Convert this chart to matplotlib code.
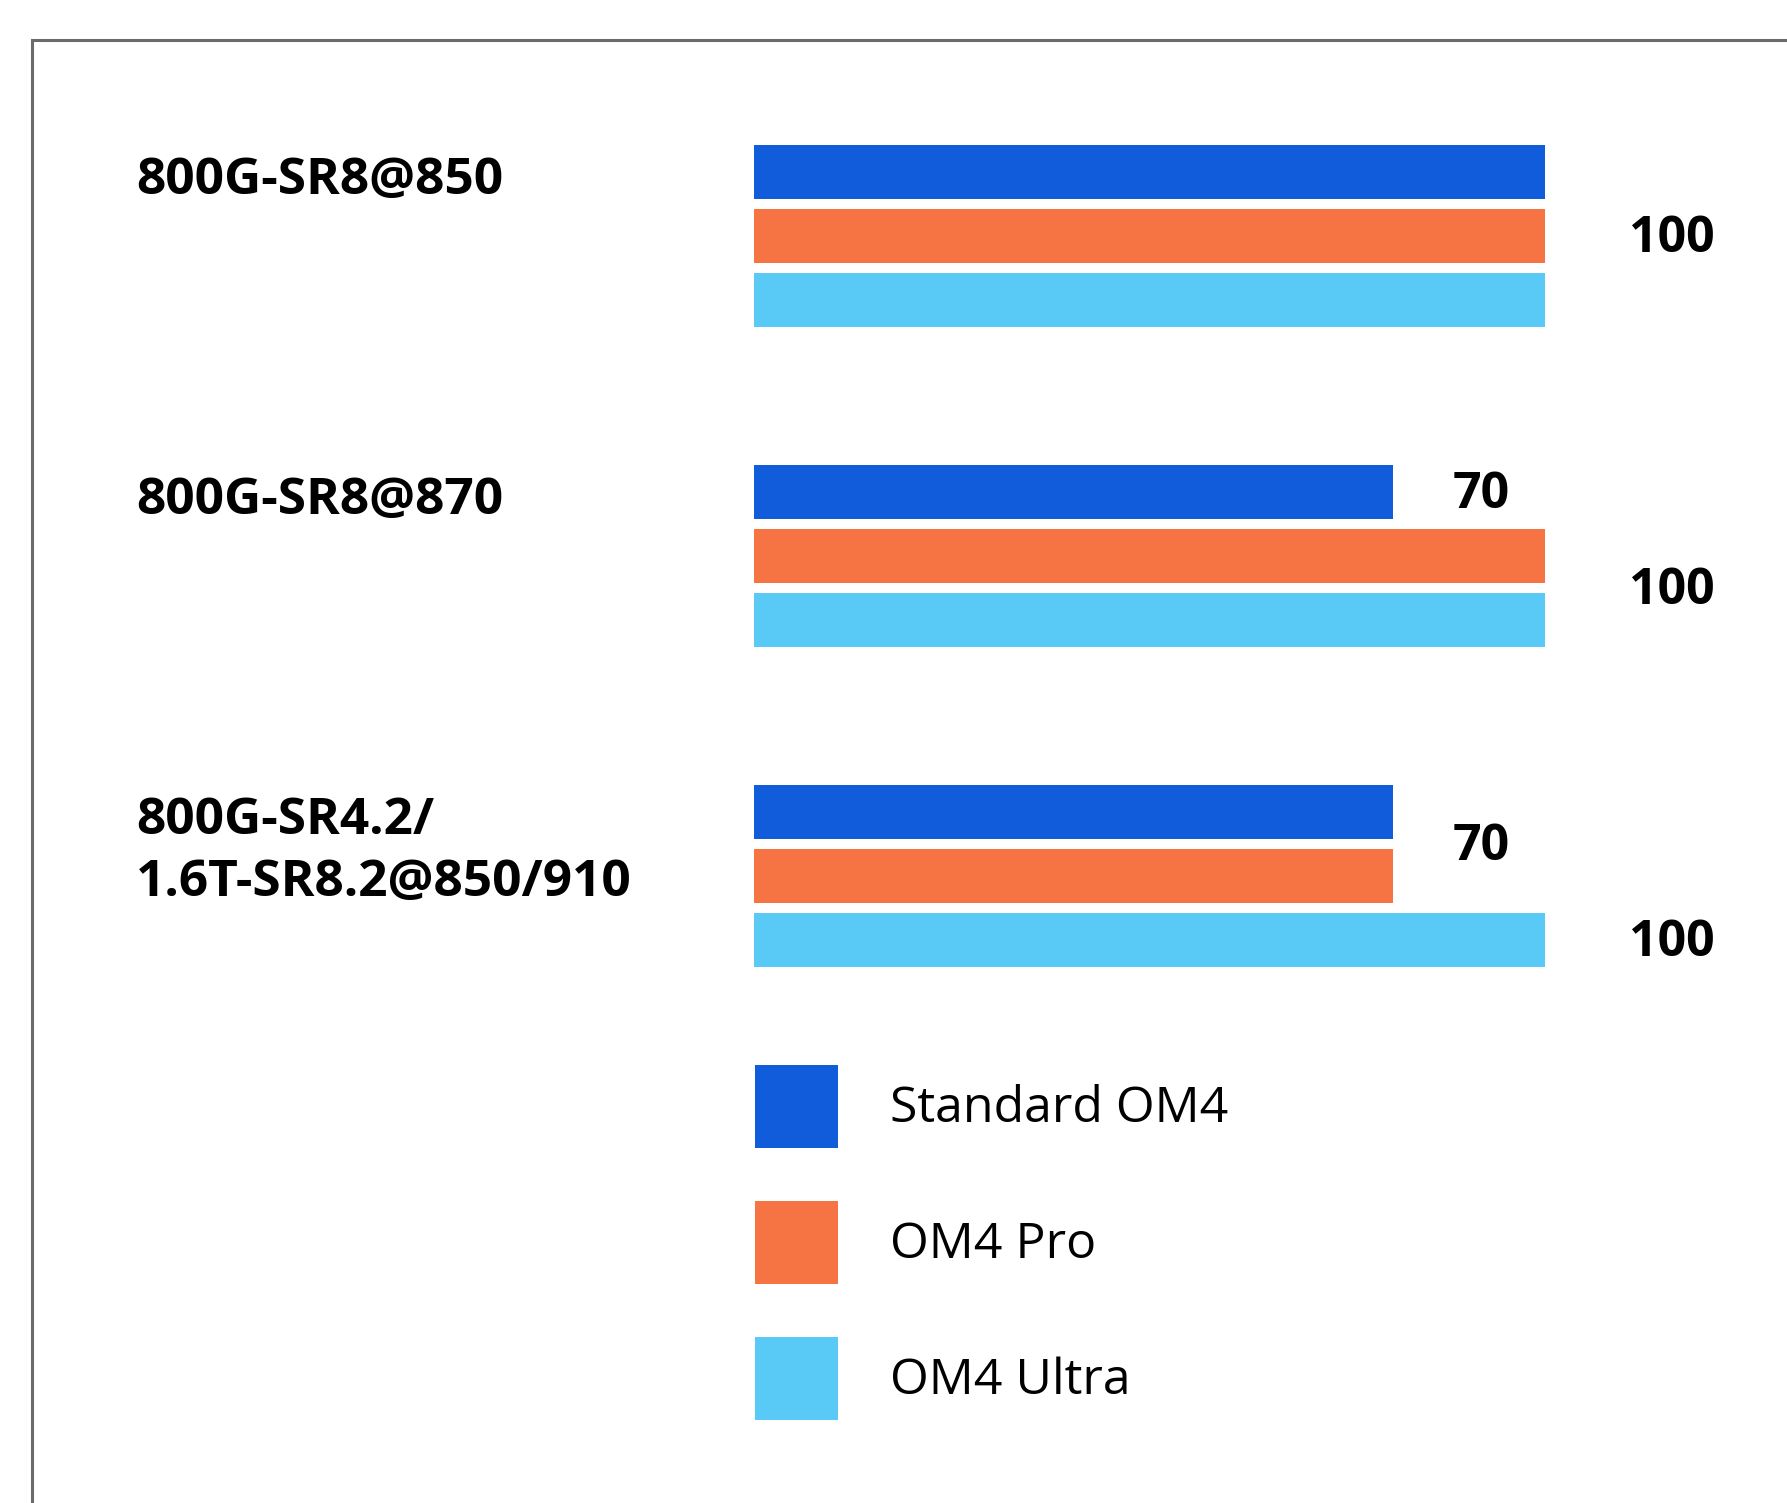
"""Fibre reach comparison chart: grouped horizontal bars with values and a legend."""

from itertools import groupby

import matplotlib

matplotlib.use("Agg")
import matplotlib.pyplot as plt
from matplotlib.patches import Patch, Rectangle

CATEGORIES = ["800G-SR8@850", "800G-SR8@870", "800G-SR4.2/\n1.6T-SR8.2@850/910"]
SERIES = ["Standard OM4", "OM4 Pro", "OM4 Ultra"]
STANDARD_OM4 = [100, 70, 70]
OM4_PRO = [100, 100, 70]
OM4_ULTRA = [100, 100, 100]

COLORS = ["#105CDB", "#F67444", "#58CAF5"]
BORDER = "#6B6B6B"
FONT = ["Open Sans", "DejaVu Sans"]

FIGSIZE = (17.87, 15.03)
DPI = 100
BAR_BASE = -56       # bars start left of zero in the original
BAR_STEP = 0.2       # spacing of bars inside a group
BAR_HEIGHT = 0.169
LABEL_SCALE = 1.25   # value labels sit at value * scale


def main() -> None:
    plt.rcParams["font.family"] = FONT
    fig = plt.figure(figsize=FIGSIZE, dpi=DPI)
    ax = fig.add_axes([0, 0, 1, 1])
    ax.set_xlim(-204.9, 147.8)
    ax.set_ylim(3.959, -0.7375)
    ax.axis("off")

    series_values = [STANDARD_OM4, OM4_PRO, OM4_ULTRA]
    for gi, cat in enumerate(CATEGORIES):
        ys = [gi + (si - 1) * BAR_STEP for si in range(len(SERIES))]
        vals = [series_values[si][gi] for si in range(len(SERIES))]
        for si, (y, v) in enumerate(zip(ys, vals)):
            ax.barh(y, v - BAR_BASE, left=BAR_BASE, height=BAR_HEIGHT,
                    color=COLORS[si], linewidth=0)

        # one label per run of equal neighbouring bars
        idx = 0
        for v, run in groupby(vals):
            n = len(list(run))
            y_mid = sum(ys[idx:idx + n]) / n
            ax.text(v * LABEL_SCALE, y_mid + 0.01, f"{v}", ha="center", va="center",
                    fontsize=36, fontweight="bold", color="black")
            idx += n

        ax.text(-178.0, ys[0] - BAR_HEIGHT / 2 + 0.035, cat, ha="left", va="top",
                fontsize=37, fontweight="bold", color="black", linespacing=1.3)

    handles = [Patch(facecolor=c, edgecolor="none") for c in COLORS]
    fig.legend(handles, SERIES, loc="upper left",
               bbox_to_anchor=(755 / 1787, 1 - 1065 / 1503),
               frameon=False, fontsize=36, borderpad=0, borderaxespad=0,
               handlelength=1.66, handleheight=2.18, handletextpad=1.05,
               labelspacing=1.06)

    # frame: only left and top edges fall inside the picture
    fig.patches.append(Rectangle((31.5 / 1787, -0.05), 1.2, 1.05 - 39.5 / 1503,
                                 transform=fig.transFigure, fill=False,
                                 edgecolor=BORDER, linewidth=2.2))

    fig.savefig("out.png", dpi=DPI, facecolor="white")
    plt.close(fig)


if __name__ == "__main__":
    main()
